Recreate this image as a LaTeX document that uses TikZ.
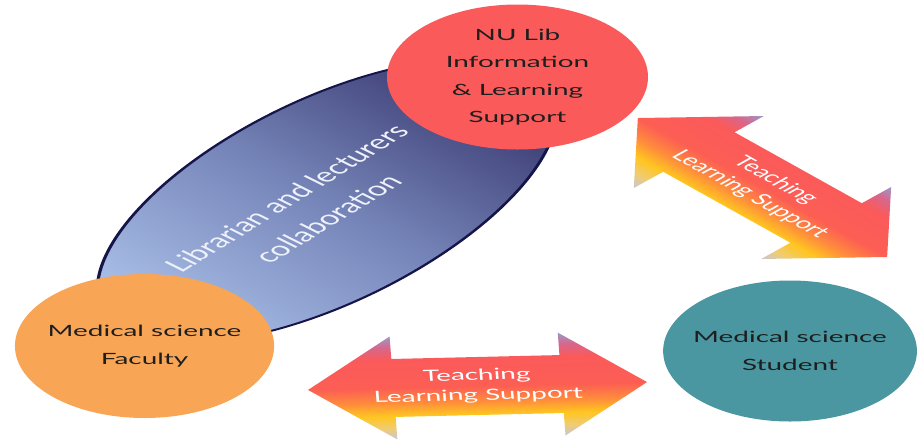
\documentclass[tikz,border=0pt]{standalone}
\usepackage{fontspec}
\setmainfont{Lato}
\usetikzlibrary{shapes.geometric}
\definecolor{nured}{HTML}{FA5A5A}
\definecolor{facorange}{HTML}{F8A655}
\definecolor{stuteal}{HTML}{4A97A2}
\definecolor{navylight}{HTML}{AAC0E8}
\definecolor{navymid}{HTML}{7584B8}
\definecolor{navydark}{HTML}{36356C}
\definecolor{navyline}{HTML}{15154A}
\definecolor{txtdark}{HTML}{1E1E1E}
\definecolor{navytext}{HTML}{EEF0FA}
\definecolor{arA}{HTML}{C8C6D8}
\definecolor{arB}{HTML}{F0CC70}
\definecolor{arC}{HTML}{FFC520}
\definecolor{arD}{HTML}{FF8C3C}
\definecolor{arE}{HTML}{FC5E54}
\definecolor{arF}{HTML}{FB5A5A}
\definecolor{arG}{HTML}{D8668A}
\definecolor{arH}{HTML}{9C98C8}
\pgfdeclareverticalshading{arrowshade}{100bp}{color(0bp)=(arA); color(25bp)=(arA); color(30.6bp)=(arB); color(36.4bp)=(arC); color(42.7bp)=(arD); color(50bp)=(arE); color(63.6bp)=(arF); color(69.4bp)=(arG); color(75bp)=(arH); color(100bp)=(arH)}
\tikzset{
  bubble/.style={circle, inner sep=0pt, text=txtdark, font=\fontsize{15.5}{27.5}\selectfont, align=center},
  arrowtext/.style={text=white, font=\fontsize{15.5}{20}\selectfont, align=center, inner sep=0pt},
  blockarrow/.style={shade, shading=arrowshade},
  collabtext/.style={text=navytext, font=\fontsize{19.5}{30.5}\selectfont, align=center, inner sep=0pt},
}
\begin{document}
\begin{tikzpicture}[x=1pt,y=-1pt]
\useasboundingbox (0,0) rectangle (919,445);
\begin{scope}[transform canvas={xscale=1.8}]
  % collaboration ellipse
  \path[draw=navyline, line width=1.8pt, top color=navydark, bottom color=navylight, middle color=navymid, shading angle=-45, rotate around={50:(181.7,201)}] (181.7,201) ellipse [x radius=172, y radius=83];
  \node[collabtext, rotate=48] (collab) at (170.5,208.5) {Librarian and lecturers\\collaboration};
  % circles
  \node[bubble, fill=nured, minimum size=145pt] (nu) at (287.5,77) {NU Lib\\Information\\\& Learning\\Support};
  \node[bubble, fill=facorange, minimum size=144pt] (fac) at (80.3,346) {Medical science\\Faculty};
  \node[bubble, fill=stuteal, minimum size=141pt] (stu) at (438.9,351) {Medical science\\Student};
  % bottom arrow
  \begin{scope}[transform canvas={shift={(265.3,386)}, rotate=2.4}]
    \path[blockarrow] (-94.25,0) -- (-46.75,51.5) -- (-46.75,29) -- (46.75,29) -- (46.75,51.5) -- (94.25,0) -- (46.75,-51.5) -- (46.75,-29) -- (-46.75,-29) -- (-46.75,-51.5) -- cycle;
    \node[arrowtext] (tlsbottom) at (0,0) {Teaching\\Learning Support};
  \end{scope}
  % diagonal arrow
  \begin{scope}[transform canvas={shift={(423.6,187.5)}, rotate=-45.1}]
    \path[blockarrow] (-98.1,0) -- (-50.1,51) -- (-50.1,28) -- (50.1,28) -- (50.1,51) -- (98.1,0) -- (50.1,-51) -- (50.1,-28) -- (-50.1,-28) -- (-50.1,-51) -- cycle;
    \node[arrowtext] (tlsdiag) at (0,0) {Teaching\\Learning Support};
  \end{scope}
\end{scope}
\end{tikzpicture}
\end{document}
